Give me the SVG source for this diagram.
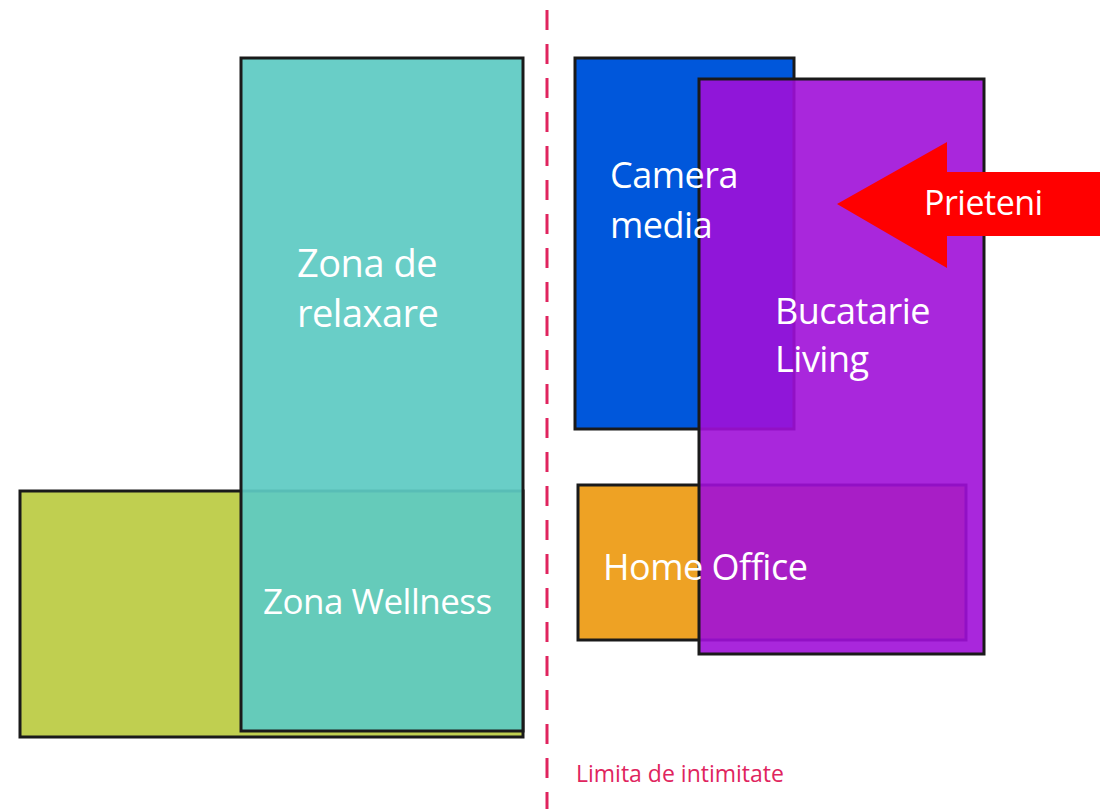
<svg xmlns="http://www.w3.org/2000/svg" width="1100" height="809" viewBox="0 0 1100 809">
<style>
.box{stroke:#1a1a1a;stroke-width:3}
.lbl{font-family:"Open Sans","Liberation Sans",sans-serif;fill:#fff;letter-spacing:-0.5px}
</style>
<rect width="1100" height="809" fill="#fff"/>
<g id="connectors">
<line x1="547" y1="10" x2="547" y2="809" stroke="#E0245E" stroke-width="3" stroke-dasharray="20,14"/>
</g>
<g id="wellness-extra"><rect class="box" x="20" y="491" width="503" height="246" fill="#C0CF50"/></g>
<g id="relaxare">
<rect class="box" x="241" y="58" width="282" height="673" fill="#5ECAC3" fill-opacity="0.93"/>
<text class="lbl" x="297" y="277" font-size="38">Zona de</text>
<text class="lbl" x="297" y="327" font-size="38">relaxare</text>
<text class="lbl" x="263" y="614" font-size="35">Zona Wellness</text>
</g>
<g id="camera-media"><rect class="box" x="575" y="58" width="219" height="371" fill="#0057DB"/></g>
<g id="home-office"><rect class="box" x="578" y="485" width="388" height="155" fill="#EEA224"/></g>
<g id="bucatarie">
<rect class="box" x="699" y="79" width="285" height="575" fill="#A00FD8" fill-opacity="0.9"/>
<text class="lbl" x="775" y="324" font-size="36">Bucatarie</text>
<text class="lbl" x="775" y="372" font-size="36">Living</text>
</g>
<g id="labels">
<text class="lbl" x="610" y="188" font-size="36">Camera</text>
<text class="lbl" x="610" y="238" font-size="36">media</text>
<text class="lbl" x="603" y="580" font-size="36">Home Office</text>
</g>
<g id="prieteni">
<polygon points="837,204 947,142 947,172 1100,172 1100,236 947,236 947,268" fill="#FF0000"/>
<text class="lbl" x="924" y="215" font-size="34">Prieteni</text>
</g>
<text x="576" y="782" font-family="Open Sans, Liberation Sans, sans-serif" font-size="23" fill="#E0245E">Limita de intimitate</text>
</svg>
